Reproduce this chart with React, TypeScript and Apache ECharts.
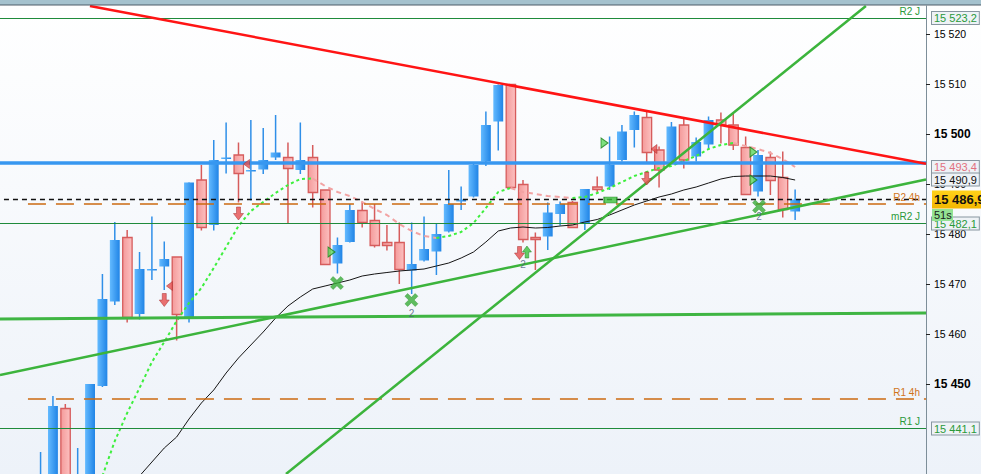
import React, { useEffect, useRef } from "react";
import * as echarts from "echarts";

const FONT = "'Liberation Sans', Arial, sans-serif";
const X_MIN = -3.28;
const X_MAX = 71.58;
const Y_MIN = 15432;
const Y_MAX = 15525.6;
const yTicks = [15450, 15460, 15470, 15480, 15490, 15500, 15510, 15520];

// [open, close, low, high]
const candles: number[][] = [
  [15420, 15431, 15418, 15436.4],
  [15425, 15445.6, 15423, 15447.6],
  [15445.1, 15428, 15426, 15446],
  [15422, 15431, 15420, 15437.2],
  [15428, 15450, 15426, 15450],
  [15449.6, 15467, 15449.4, 15472],
  [15466.5, 15478.8, 15465.8, 15482.4],
  [15479.3, 15463.3, 15462.3, 15480.8],
  [15464, 15473, 15462.9, 15476.4],
  [15472.9, 15473, 15470.8, 15483.5],
  [15473.5, 15475, 15468.8, 15478.5],
  [15475.4, 15463.9, 15458.7, 15475.4],
  [15463.3, 15490.3, 15462.3, 15490.3],
  [15490.8, 15481.3, 15480.7, 15493.8],
  [15481.8, 15494.8, 15480.7, 15498.8],
  [15495.2, 15495.3, 15492.1, 15502.3],
  [15495.8, 15492.1, 15486.3, 15498.3],
  [15492.7, 15492.8, 15486.7, 15502.8],
  [15492.9, 15494.8, 15492, 15501.2],
  [15495.3, 15496.3, 15494.8, 15503.8],
  [15495.3, 15493.1, 15482.1, 15498.3],
  [15492.8, 15494.8, 15492, 15502.3],
  [15495.3, 15488.3, 15485.3, 15497.8],
  [15488.8, 15473.9, 15473.9, 15488.8],
  [15474.1, 15477.8, 15472.1, 15479.3],
  [15478.4, 15484.8, 15478.3, 15486],
  [15484.7, 15482.3, 15481.3, 15486.5],
  [15482.7, 15477.7, 15477.3, 15486],
  [15478.3, 15477.7, 15476.7, 15481.8],
  [15478.3, 15472.9, 15470, 15482.3],
  [15472.7, 15474, 15468, 15482.3],
  [15474.7, 15477, 15474.5, 15483.5],
  [15476.5, 15480, 15471.8, 15482.1],
  [15480.5, 15486, 15480.3, 15492.8],
  [15486.5, 15486.9, 15484.8, 15489.5],
  [15487.5, 15493.8, 15487.3, 15494.2],
  [15494.5, 15501.8, 15493.6, 15504.5],
  [15502.5, 15509.8, 15496.7, 15509.9],
  [15509.9, 15489.3, 15489.1, 15510],
  [15489.9, 15478.9, 15478.3, 15490.8],
  [15479.3, 15478.9, 15472.8, 15480.3],
  [15479.5, 15484.3, 15476.8, 15486.3],
  [15484, 15486, 15481.7, 15486.5],
  [15486.3, 15481.3, 15481.3, 15486.6],
  [15482.1, 15489, 15480.8, 15489],
  [15489.4, 15488.9, 15488.3, 15491.5],
  [15489.5, 15493.9, 15488.8, 15499.5],
  [15494.8, 15500.5, 15494.5, 15501.8],
  [15500.8, 15503.8, 15497.3, 15504.5],
  [15503.3, 15496.3, 15494.3, 15504.5],
  [15496.8, 15492.8, 15489.3, 15497.5],
  [15494.5, 15501.5, 15494.2, 15502.4],
  [15501.8, 15494.8, 15493.1, 15503.1],
  [15495.5, 15498.4, 15494.5, 15499.3],
  [15497.9, 15502.8, 15497, 15503.5],
  [15502.8, 15501.8, 15498.1, 15504.3],
  [15501.8, 15497.8, 15496.8, 15504],
  [15497.3, 15487.9, 15487.9, 15499.5],
  [15488.5, 15495.8, 15487.5, 15496.8],
  [15495.3, 15490.7, 15487.8, 15496.5],
  [15491.3, 15484.9, 15483.3, 15496.5],
  [15484.5, 15486.9, 15482.8, 15488.9],
];

const slowMA: (number | null)[] = [
  null, null, null, null, null, null, null, null,
  15431.6, 15434.4, 15437.2, 15439.4, 15443, 15446.2, 15448.8, 15452.2,
  15455.2, 15457.8, 15460.4, 15463.2, 15465.6, 15467.4, 15469, 15469.6,
  15470.2, 15470.8, 15471.6, 15472, 15472.3, 15472.6, 15472.8, 15473,
  15473.6, 15474.2, 15475.2, 15476.4, 15478.4, 15480.6, 15481.2, 15481.4,
  15481.2, 15481.3, 15481.6, 15481.8, 15482.4, 15482.9, 15483.8, 15484.8,
  15485.8, 15486.6, 15487.4, 15488, 15488.8, 15489.4, 15490.2, 15491,
  15491.5, 15491.6, 15491.6, 15491.6, 15491.3, 15490.8,
];

const fastMA: (number | null)[] = [
  null, null, null, null, null,
  15431.6, 15438.6, 15444.2, 15449.2, 15454.4, 15458.4, 15462.6, 15466.2,
  15469.2, 15473.2, 15477.4, 15481.6, 15484.6, 15486.4, 15488.2, 15489.8,
  15491, 15491.1, 15489.6, 15488.4, 15487.6, 15486.4, 15485, 15483.8,
  15482, 15480.6, 15479.6, 15479.2, 15479.6, 15480.4, 15482.2, 15485.2,
  15488.4, 15489.2, 15488.4, 15488, 15487.6, 15487.4, 15487.2, 15487.4,
  15488.2, 15489.2, 15490.4, 15491.6, 15492.4, 15493.2, 15493.6, 15494.6,
  15495.6, 15497, 15497.8, 15498.2, 15497.6, 15497, 15496.2, 15495, 15493.4,
];

// signal markers [x index, price]
const sellArrows = [[10, 15466.8], [16, 15484.1], [38.72, 15476.2], [49, 15491.1]];
const buyArrows = [[39.32, 15476.4]];
const redTriangles = [[10.42, 15469.6], [16.65, 15494], [49.59, 15497]];
const greenTriangles = [[23.52, 15476.4], [45.59, 15498.2], [57.63, 15496.4], [57.63, 15490.8]];
const greenCrosses = [[23.96, 15470.2], [29.98, 15466.8], [58.08, 15485.5]];
const countLabels = [[29.98, 15464.2], [39, 15473.9], [58.08, 15483.6]];
const greenBlocks = [[46.07, 15486.8]];

// trend lines [x1, y1, x2, y2]
const redTrend = [3.99, 15525.6, X_MAX, 15494.06];
const steepTrend = [19.84, 15432, 66.72, 15525.6];
const risingTrend = [X_MIN, 15451.8, X_MAX, 15490.9];
const flatTrend = [X_MIN, 15463, X_MAX, 15464.2];
const blueLevel = 15494.2;

// pivot levels
const dayLevels = [
  { name: "R2 J", value: 15523.2 },
  { name: "mR2 J", value: 15482.1 },
  { name: "R1 J", value: 15441.1 },
];
const h4Levels = [
  { name: "R2 4h", value: 15486 },
  { name: "R1 4h", value: 15447 },
];
const lastPrice = 15486.9;
const redTrendValue = 15493.4;
const risingTrendValue = 15490.9;

const fmt = (v: number, d: number) => {
  const s = v.toFixed(d);
  const [a, b] = s.split(".");
  const g = a.replace(/\B(?=(\d{3})+(?!\d))/g, " ");
  return b ? g + "," + b : g;
};

const HIDDEN = { color: "rgba(0,0,0,0)", width: 0, type: "solid" };

const boxLabel = (text: string, color: string) => ({
  show: true,
  position: "end" as const,
  distance: 6,
  formatter: text,
  color,
  fontFamily: FONT,
  fontSize: 11,
  backgroundColor: "#eef2f6",
  borderColor: "#8796a0",
  borderWidth: 1,
  padding: [1, 2, 0, 2],
});

export default function App() {
  const ref = useRef<HTMLDivElement>(null);
  useEffect(() => {
    if (!ref.current) return;
    const chart = echarts.init(ref.current, undefined, { renderer: "svg" });

    // split fast MA into rising (green) / falling (pink) runs
    const runs: { up: boolean; data: number[][] }[] = [];
    for (let i = 0; i < fastMA.length - 1; i++) {
      const a = fastMA[i], b = fastMA[i + 1];
      if (a == null || b == null) continue;
      const up = b >= a;
      const last = runs[runs.length - 1];
      if (last && last.up === up && last.data[last.data.length - 1][0] === i) {
        last.data.push([i + 1, b]);
      } else {
        runs.push({ up, data: [[i, a], [i + 1, b]] });
      }
    }
    const runSeries = runs.map((r) => ({
      type: "line",
      data: r.data,
      symbol: "none",
      z: 4,
      lineStyle: r.up
        ? { color: "#3def3d", width: 2, type: [3, 3] }
        : { color: "#f2a3a3", width: 2, type: [5, 4] },
    }));

    const seg = (t: number[], color: string, width: number) => [
      { coord: [t[0], t[1]], lineStyle: { color, width, type: "solid" } },
      { coord: [t[2], t[3]] },
    ];

    const markData: any[] = [
      { yAxis: blueLevel, lineStyle: { color: "#3797f0", width: 3.5, type: "solid" } },
      ...dayLevels.map((l) => ({
        yAxis: l.value,
        lineStyle: { color: "#1f8b3b", width: 1, type: "solid" },
        label: {
          show: true, position: "insideEndTop", formatter: l.name, distance: [6, 2],
          color: "#2a9a3a", fontSize: 10, fontFamily: FONT,
        },
      })),
      ...h4Levels.map((l) => [
        {
          coord: [-1.02, l.value],
          lineStyle: { color: "#cc6a10", width: 1.5, type: [18, 10] },
          label: {
            show: true, position: "insideEndTop", formatter: l.name, distance: [6, 2],
            color: "#d0741a", fontSize: 10, fontFamily: FONT,
          },
        },
        { coord: [X_MAX, l.value] },
      ]),
      [
        {
          coord: [-2.96, lastPrice],
          lineStyle: { color: "#111", width: 1.3, type: [5, 4] },
          label: {
            show: true, position: "end", distance: 6, formatter: fmt(lastPrice, 1),
            color: "#111", fontWeight: "bold", fontSize: 13, fontFamily: FONT,
            backgroundColor: new echarts.graphic.LinearGradient(0, 0, 0, 1, [
              { offset: 0, color: "#ffd21a" },
              { offset: 1, color: "#f2b600" },
            ]),
            padding: [3, 2, 2, 2],
          },
        },
        { coord: [X_MAX, lastPrice] },
      ],
      seg(redTrend, "#ff1414", 2.5),
      seg(steepTrend, "#3cb43c", 2.5),
      seg(risingTrend, "#3cb43c", 2.5),
      seg(flatTrend, "#3fb543", 3),
      // value boxes on the price axis
      { yAxis: dayLevels[0].value, lineStyle: HIDDEN, label: boxLabel(fmt(dayLevels[0].value, 1), "#2a9a3a") },
      { yAxis: redTrendValue, lineStyle: HIDDEN, label: boxLabel(fmt(redTrendValue, 1), "#e2707e") },
      { yAxis: risingTrendValue, lineStyle: HIDDEN, label: boxLabel(fmt(risingTrendValue, 1), "#111") },
      { yAxis: dayLevels[1].value, lineStyle: HIDDEN, label: boxLabel(fmt(dayLevels[1].value, 1), "#2a9a3a") },
      { yAxis: dayLevels[2].value, lineStyle: HIDDEN, label: boxLabel(fmt(dayLevels[2].value, 1), "#2a9a3a") },
    ];

    const blueGrad = new echarts.graphic.LinearGradient(0, 0, 1, 0, [
      { offset: 0, color: "#63baff" },
      { offset: 1, color: "#2084e6" },
    ]);
    const redGrad = new echarts.graphic.LinearGradient(0, 0, 1, 0, [
      { offset: 0, color: "#f49a9a" },
      { offset: 1, color: "#fcc0c0" },
    ]);

    const option: any = {
      animation: false,
      backgroundColor: new echarts.graphic.LinearGradient(0, 0, 0, 1, [
        { offset: 0, color: "#ffffff" },
        { offset: 1, color: "#edf2f9" },
      ]),
      grid: { left: 0, right: 55, top: 6, bottom: 0 },
      xAxis: { type: "value", min: X_MIN, max: X_MAX, show: false },
      yAxis: {
        type: "value",
        position: "right",
        min: Y_MIN,
        max: Y_MAX,
        splitLine: { show: false },
        axisLine: { show: true, onZero: false, lineStyle: { color: "#7d8e99", width: 1 } },
        axisTick: { show: true, length: 4, customValues: yTicks, lineStyle: { color: "#222" } },
        axisLabel: {
          customValues: yTicks,
          margin: 8,
          formatter: (v: number) => (Math.round(v) % 50 === 0 ? `{b|${fmt(v, 0)}}` : `{n|${fmt(v, 0)}}`),
          rich: {
            b: { fontWeight: "bold", fontSize: 12, color: "#000", fontFamily: FONT },
            n: { fontSize: 10.5, color: "#000", fontFamily: FONT },
          },
        },
      },
      graphic: [
        { type: "rect", left: 0, top: 0, shape: { width: 981, height: 5 }, style: { fill: "#a5c2ce" }, z: 10 },
        { type: "rect", left: 0, top: 4.5, shape: { width: 981, height: 1 }, style: { fill: "#4e5d68" }, z: 10 },
        { type: "rect", left: 932, top: 209, shape: { width: 21, height: 12 }, style: { fill: "#93e293" }, z: 20 },
        { type: "text", left: 934, top: 209.5, style: { text: "51s", fill: "#1a1a1a", font: `11px ${FONT}` }, z: 21 },
      ],
      series: [
        {
          type: "custom",
          clip: true,
          z: 3,
          data: candles.map((c, i) => [i, c[0], c[1], c[2], c[3]]),
          encode: { x: 0, y: [1, 2, 3, 4] },
          renderItem: (params: any, api: any) => {
            const i = api.value(0);
            const o = api.value(1), c = api.value(2), l = api.value(3), h = api.value(4);
            const pO = api.coord([i, o]);
            const pC = api.coord([i, c]);
            const pL = api.coord([i, l]);
            const pH = api.coord([i, h]);
            const w = api.size([1, 0])[0] * 0.8;
            const bull = c >= o;
            const x = pO[0];
            const top = Math.min(pO[1], pC[1]);
            const ht = Math.max(Math.abs(pO[1] - pC[1]), 1.5);
            const col = bull ? "#2f8fe8" : "#d65c5c";
            return {
              type: "group",
              children: [
                { type: "line", shape: { x1: x, y1: pH[1], x2: x, y2: pL[1] }, style: { stroke: col, lineWidth: 1.5 } },
                bull
                  ? { type: "rect", shape: { x: x - w / 2, y: top, width: w, height: ht }, style: { fill: blueGrad } }
                  : {
                      type: "rect",
                      shape: { x: x - w / 2 + 0.5, y: top, width: w - 0.5, height: ht },
                      style: { fill: redGrad, stroke: col, lineWidth: 1.3 },
                    },
              ],
            };
          },
        },
        {
          type: "line",
          data: slowMA.map((v, i) => [i, v]).filter((p) => p[1] != null),
          symbol: "none",
          z: 4,
          lineStyle: { color: "#151515", width: 1 },
          markLine: {
            silent: true,
            symbol: ["none", "none"],
            animation: false,
            label: { show: false },
            data: markData,
          },
        },
        ...runSeries,
        {
          type: "scatter", z: 6, data: greenBlocks, symbol: "rect", symbolSize: [13, 6],
          itemStyle: { color: "#3cc03c", borderColor: "#1d7d1d", borderWidth: 0.8 },
        },
        {
          type: "scatter", z: 6, data: sellArrows,
          symbol: "path://M3,0 L7,0 L7,6 L10,6 L5,12 L0,6 L3,6 Z", symbolSize: [10, 13],
          itemStyle: { color: "#e64d4d", borderColor: "#a32a2a", borderWidth: 0.6 },
        },
        {
          type: "scatter", z: 6, data: buyArrows,
          symbol: "path://M5,0 L10,6 L7,6 L7,12 L3,12 L3,6 L0,6 Z", symbolSize: [9, 12],
          itemStyle: { color: "#3cc03c", borderColor: "#1d7d1d", borderWidth: 0.6 },
        },
        {
          type: "scatter", z: 6, data: redTriangles,
          symbol: "path://M10,0 L10,10 L0,5 Z", symbolSize: [6, 9],
          itemStyle: { color: "#e64d4d", borderColor: "#a32a2a", borderWidth: 0.6 },
        },
        {
          type: "scatter", z: 6, data: greenTriangles,
          symbol: "path://M0,0 L10,5 L0,10 Z", symbolSize: [7, 10],
          itemStyle: { color: "#5fd85f", borderColor: "#1a801a", borderWidth: 1 },
        },
        {
          type: "scatter", z: 6, data: greenCrosses,
          symbol: "path://M0,2.5 L2.5,0 L6,3.5 L9.5,0 L12,2.5 L8.5,6 L12,9.5 L9.5,12 L6,8.5 L2.5,12 L0,9.5 L3.5,6 Z",
          symbolSize: 13,
          itemStyle: { color: "#38ad38", borderColor: "#2a8f2a", borderWidth: 0.5 },
        },
        {
          type: "scatter", z: 6, data: countLabels, symbol: "circle", symbolSize: 1,
          itemStyle: { color: "rgba(0,0,0,0)" },
          label: { show: true, position: "inside", formatter: "2", color: "#4a5a7c", fontSize: 10, fontFamily: FONT },
        },
      ],
    };
    chart.setOption(option);
    return () => chart.dispose();
  }, []);

  return <div ref={ref} style={{ position: "fixed", left: 0, top: 0, width: 981, height: 474 }} />;
}
